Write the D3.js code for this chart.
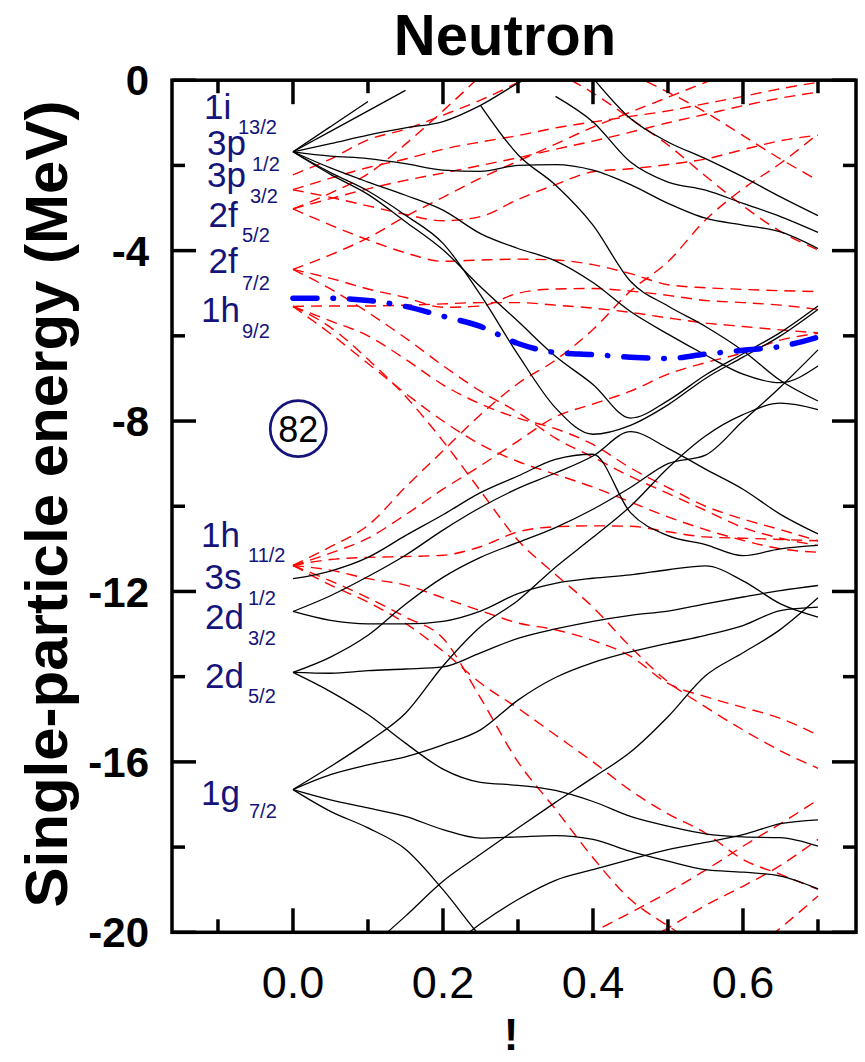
<!DOCTYPE html>
<html>
<head>
<meta charset="utf-8">
<script src="https://cdn.jsdelivr.net/npm/d3@7"></script>
<style>
  body { margin: 0; background: #fff; }
  text { font-family: "Liberation Sans", Arial, sans-serif; }
</style>
</head>
<body>
<svg id="chart" width="865" height="1062"></svg>
<script>
// deformation grid
const betas = [0, 0.05, 0.1, 0.15, 0.2, 0.25, 0.3, 0.35, 0.4, 0.45, 0.5, 0.55, 0.6, 0.65, 0.7];

// positive parity levels (solid black), upper part
const blackTop = [
  [-1.68, -1.09, -0.50],
  [-1.68, -1.20, -0.72, -0.24],
  [-1.68, -1.49, -1.29, -1.12, -0.97, -0.59, -0.07, 0.40],
  [-1.68, -1.78, -1.84, -1.96, -2.11, -2.14, -2.00, -1.98, -2.11, -2.45, -2.89, -3.24, -3.40, -3.56, -3.95],
  [-1.68, -2.06, -2.39, -2.70, -3.05, -3.60, -3.95, -4.24, -4.75, -5.43, -5.96, -6.45, -6.90, -7.10, -6.71],
  [-1.68, -2.21, -2.68, -3.32, -3.98, -4.85, -5.66, -6.48, -7.14, -7.93, -7.52, -6.92, -6.42, -5.92, -5.30],
  [-1.68, -2.17, -2.60, -3.17, -3.83, -5.04, -6.44, -7.69, -8.31, -8.10, -7.62, -7.00, -6.50, -6.00, -5.38],
  [null, null, null, null, null, null, null, null, 0.05, -0.90, -1.45, -1.84, -2.27, -2.74, -3.18],
  [null, null, null, null, null, null, null, -0.38, -0.98, -1.92, -2.39, -2.58, -2.89, -3.20, -3.57],
  [null, null, null, null, null, -0.59, -1.75, -2.46, -3.40, -4.72, -5.30, -5.78, -6.35, -7.05, -7.53]
];

// positive parity levels (solid black), lower part
const blackLow = [
  [-11.70, -11.52, -11.20, -10.69, -10.20, -9.68, -9.29, -8.90, -8.78, -10.15, -10.69, -10.90, -11.16, -11.00, -10.92],
  [-12.47, -12.10, -11.65, -11.15, -10.56, -10.03, -9.58, -9.22, -8.82, -8.25, -8.64, -9.13, -9.60, -10.19, -10.65],
  [-12.47, -12.68, -12.76, -12.76, -12.70, -12.46, -12.05, -11.81, -11.69, -11.61, -11.49, -11.40, -11.75, -12.29, -12.60],
  [-13.90, -13.54, -13.03, -12.30, -11.67, -11.20, -10.85, -10.50, -10.07, -9.56, -9.00, -8.80, -8.00, -7.20, -6.33],
  [-13.90, -13.92, -13.86, -13.82, -13.77, -13.44, -13.10, -12.88, -12.70, -12.56, -12.46, -12.29, -12.13, -11.98, -11.86],
  [-13.90, -14.35, -14.89, -15.56, -16.17, -16.48, -16.55, -16.67, -16.93, -17.28, -17.51, -17.69, -17.76, -17.78, -17.98],
  [-16.65, -16.11, -15.53, -14.86, -13.75, -12.83, -12.21, -11.43, -10.73, -10.00, -9.10, -8.35, -7.85, -7.58, -7.73],
  [-16.65, -16.30, -16.07, -15.88, -15.60, -15.25, -14.55, -14.02, -13.67, -13.42, -13.22, -13.03, -12.80, -12.45, -12.37],
  [-16.65, -16.89, -17.08, -17.28, -17.59, -17.79, -17.76, -17.73, -17.82, -18.10, -18.33, -18.53, -18.59, -18.68, -18.98],
  [-16.65, -17.16, -17.55, -18.05, -19.00, -20.10, -21.00],
  [null, null, -20.40, -19.62, -18.80, -18.17, -17.55, -16.95, -16.37, -15.77, -14.94, -13.98, -13.44, -12.89, -12.15],
  [null, null, null, null, -20.50, -19.80, -19.23, -18.78, -18.53, -18.29, -18.06, -17.89, -17.71, -17.45, -17.36]
];

// negative parity levels (red dashed), upper part
const redTop = [
  [-2.22, -1.85, -1.40, -1.15, -0.82, -0.47, -0.05, 0.40],
  [-2.57, -2.30, -2.05, -1.85, -1.62, -1.45, -1.30, -1.12, -0.98, -0.85, -0.72, -0.55, -0.38, -0.20, -0.05],
  [-2.57, -2.75, -2.95, -3.15, -3.30, -3.20, -2.80, -2.45, -2.15, -2.08, -1.98, -1.85, -1.63, -1.42, -1.29],
  [-3.02, -2.78, -2.55, -2.35, -2.18, -2.00, -1.82, -1.62, -1.43, -1.22, -1.00, -0.80, -0.60, -0.42, -0.28],
  [-3.02, -2.65, -2.20, -1.50, -0.72, 0.10],
  [-3.02, -3.40, -3.75, -4.05, -4.25, -4.22, -4.20, -4.22, -4.33, -4.54, -4.80, -4.87, -4.91, -4.94, -4.96],
  [-4.44, -4.10, -3.70, -3.20, -2.75, -2.30, -1.90, -1.50, -1.10, -0.75, -0.40, -0.05, 0.30],
  [-4.44, -4.65, -4.90, -5.10, -5.33, -5.30, -5.00, -4.90, -4.89, -4.95, -5.05, -5.17, -5.22, -5.28, -5.38],
  [-4.44, -4.90, -5.45, -6.05, -6.70, -7.30, -7.80, -8.40, -8.85, -9.30, -9.70, -10.10, -10.50, -10.75, -10.92],
  [-5.31, -5.30, -5.30, -5.28, -5.25, -5.22, -5.22, -5.28, -5.35, -5.45, -5.58, -5.70, -5.78, -5.86, -5.93],
  [-5.31, -5.80, -6.55, -7.42, -8.47, -9.64, -10.80, -11.60, -12.37, -13.30, -14.12, -14.71, -15.25, -15.74, -16.15],
  [-5.31, -5.65, -6.00, -6.55, -7.15, -7.60, -7.93, -8.18, -8.55, -9.10, -9.56, -10.00, -10.30, -10.55, -10.81],
  [-5.31, -5.95, -6.65, -7.35, -8.00, -8.55, -8.95, -9.25, -9.55, -9.90, -10.25, -10.55, -10.80, -11.00, -11.08],
  [null, null, null, null, null, null, null, null, null, 0.15, -0.28, -0.75, -1.30, -1.85, -2.35],
  [null, null, null, null, null, null, null, 0.20, -0.30, -0.90, -1.52, -2.25, -2.95, -3.55, -3.98]
];

// negative parity levels (red dashed), lower part
const redLow = [
  [-11.39, -10.95, -10.45, -9.55, -8.70, -7.85, -7.12, -6.57, -5.85, -4.95, -4.26, -3.28, -2.55, -1.95, -1.26],
  [-11.39, -11.10, -10.75, -10.20, -9.60, -9.05, -8.47, -7.90, -7.60, -7.30, -6.90, -6.63, -6.40, -6.10, -5.94],
  [-11.39, -11.25, -11.20, -11.18, -11.15, -10.95, -10.60, -10.48, -10.46, -10.47, -10.60, -10.72, -10.75, -10.78, -10.81],
  [-11.39, -11.50, -11.70, -11.85, -12.15, -12.45, -12.74, -12.90, -13.15, -13.52, -14.16, -14.47, -14.72, -14.98, -15.37],
  [-11.39, -11.85, -12.25, -12.75, -13.40, -14.15, -14.74, -15.37, -16.00, -16.67, -17.22, -17.67, -18.29, -18.64, -18.99],
  [-11.39, -11.75, -12.15, -12.60, -13.10, -14.50, -16.00, -17.11, -18.25, -19.23, -19.85, -20.40],
  [null, null, null, null, null, null, null, -20.50, -20.00, -19.54, -19.06, -18.54, -17.98, -17.45, -16.89],
  [null, null, null, null, null, null, null, null, null, -20.40, -19.90, -19.37, -18.92, -18.43, -17.82],
  [null, null, null, null, null, null, null, null, null, null, null, null, -20.60, -19.90, -19.15]
];

// highlighted orbital (blue dash-dot)
const blueLevel = [-5.12, -5.12, -5.17, -5.31, -5.54, -5.78, -6.18, -6.39, -6.44, -6.50, -6.53, -6.43, -6.34, -6.25, -6.03];

// spherical level labels
const levelNames = ["1i", "3p", "3p", "2f", "2f", "1h", "1h", "3s", "2d", "2d", "1g"];
const levelJ = ["13/2", "1/2", "3/2", "5/2", "7/2", "9/2", "11/2", "1/2", "3/2", "5/2", "7/2"];

const xMajor = [0.0, 0.2, 0.4, 0.6];
const xMinor = [-0.1, 0.1, 0.3, 0.5, 0.7];
const yMajor = [0, -4, -8, -12, -16, -20];
const yMinor = [-2, -6, -10, -14, -18];
const shellGap = "82";

const svg = d3.select("#chart");
const pLeft = 172, pRight = 856, pTop = 80.2, pBottom = 932.3;
const x = d3.scaleLinear().domain([-0.1613, 0.7507]).range([pLeft, pRight]);
const y = d3.scaleLinear().domain([0, -20]).range([pTop, pBottom]);

svg.append("defs").append("clipPath").attr("id", "plot")
  .append("rect").attr("x", pLeft).attr("y", pTop)
  .attr("width", pRight - pLeft).attr("height", pBottom - pTop);

const line = d3.line()
  .defined(d => d[1] != null)
  .x(d => x(d[0]))
  .y(d => y(d[1]))
  .curve(d3.curveMonotoneX);

const pts = arr => betas.map((b, i) => [b, arr[i]]);

const plot = svg.append("g").attr("clip-path", "url(#plot)");

plot.selectAll("path.red").data(redTop.concat(redLow)).join("path")
  .attr("class", "red")
  .attr("d", d => line(pts(d)))
  .attr("fill", "none")
  .attr("stroke", "#ff0000")
  .attr("stroke-width", 1.4)
  .attr("stroke-dasharray", "11,7");

plot.selectAll("path.black").data(blackTop.concat(blackLow)).join("path")
  .attr("class", "black")
  .attr("d", d => line(pts(d)))
  .attr("fill", "none")
  .attr("stroke", "#000")
  .attr("stroke-width", 1.3);

plot.append("path")
  .attr("d", line(pts(blueLevel)))
  .attr("fill", "none")
  .attr("stroke", "#0000ff")
  .attr("stroke-width", 5.5)
  .attr("stroke-linecap", "round")
  .attr("stroke-dasharray", "24,16,0.5,16");

// frame and ticks (inward, all four sides)
svg.append("rect")
  .attr("x", pLeft).attr("y", pTop)
  .attr("width", pRight - pLeft).attr("height", pBottom - pTop)
  .attr("fill", "none").attr("stroke", "#000").attr("stroke-width", 3.5);

const ticks = svg.append("g").attr("stroke", "#000").attr("stroke-width", 3.5);
const xt = xMajor.map(v => [v, 24]).concat(xMinor.map(v => [v, 13]));
const yt = yMajor.map(v => [v, 24]).concat(yMinor.map(v => [v, 13]));
xt.forEach(([v, len]) => {
  ticks.append("line").attr("x1", x(v)).attr("x2", x(v)).attr("y1", pBottom).attr("y2", pBottom - len);
  ticks.append("line").attr("x1", x(v)).attr("x2", x(v)).attr("y1", pTop).attr("y2", pTop + len);
});
yt.forEach(([v, len]) => {
  ticks.append("line").attr("y1", y(v)).attr("y2", y(v)).attr("x1", pLeft).attr("x2", pLeft + len);
  ticks.append("line").attr("y1", y(v)).attr("y2", y(v)).attr("x1", pRight).attr("x2", pRight - len);
});

// tick labels
svg.selectAll("text.yl").data(yMajor).join("text")
  .attr("class", "yl")
  .attr("x", 149).attr("y", d => y(d)).attr("dy", "0.36em")
  .attr("text-anchor", "end")
  .attr("font-size", 42).attr("font-weight", "bold")
  .text(d => d === 0 ? "0" : "-" + Math.abs(d));

svg.selectAll("text.xl").data(xMajor).join("text")
  .attr("class", "xl")
  .attr("x", d => x(d)).attr("y", 998)
  .attr("text-anchor", "middle")
  .attr("font-size", 45)
  .text(d => d.toFixed(1));

// titles
svg.append("text").attr("x", 505).attr("y", 55)
  .attr("text-anchor", "middle").attr("font-size", 58).attr("font-weight", "bold")
  .text("Neutron");

svg.append("text").attr("transform", "translate(67,504) rotate(-90)")
  .attr("text-anchor", "middle").attr("font-size", 60).attr("font-weight", "bold")
  .text("Single-particle energy (MeV)");

svg.append("text").attr("x", 511).attr("y", 1050)
  .attr("text-anchor", "middle").attr("font-size", 44).attr("font-weight", "bold")
  .text("!");

// spherical labels
const mainX = [204, 207, 207, 208.5, 208.5, 201, 201, 204.5, 205, 205, 201];
const mainY = [119, 155, 187, 227, 273, 322, 547, 589, 629, 688, 805];
const subX = [238, 252, 250, 242, 242, 242, 248, 248, 248, 248, 249];
const subY = [134, 171, 203, 242, 290, 338, 562, 605, 645, 703, 818];
const navy = "#14147a";

const labels = svg.append("g").attr("fill", navy);
levelNames.forEach((n, i) => {
  labels.append("text").attr("x", mainX[i]).attr("y", mainY[i])
    .attr("font-size", 35).text(n);
  labels.append("text").attr("x", subX[i]).attr("y", subY[i])
    .attr("font-size", 20).text(levelJ[i]);
});

// shell gap marker
const gx = x(0.007), gy = y(-8.18);
svg.append("circle").attr("cx", gx).attr("cy", gy).attr("r", 28)
  .attr("fill", "none").attr("stroke", navy).attr("stroke-width", 2.7);
svg.append("text").attr("x", gx).attr("y", gy).attr("dy", "0.36em")
  .attr("text-anchor", "middle").attr("font-size", 36).text(shellGap);
</script>
</body>
</html>
